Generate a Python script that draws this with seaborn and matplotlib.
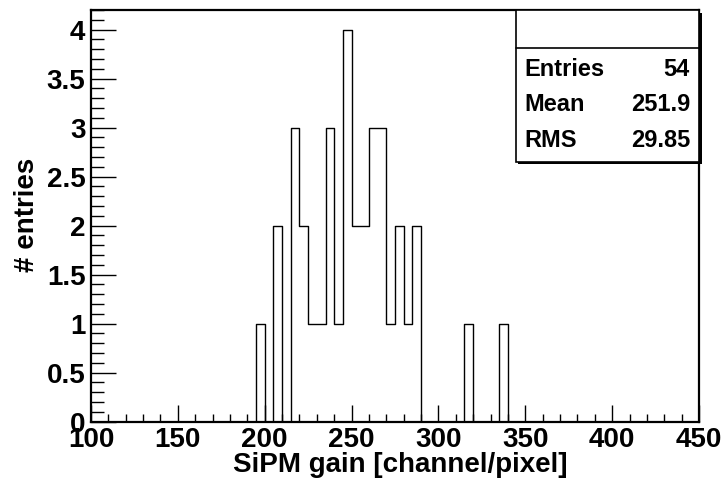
import numpy as np
import pandas as pd
import matplotlib
matplotlib.use("Agg")
import matplotlib.pyplot as plt
from matplotlib.patches import Rectangle
from matplotlib.ticker import MultipleLocator
import seaborn as sns

# ---- data ----
bin_low_edges = [195, 205, 215, 220, 225, 230, 235, 240, 245, 250, 255,
                 260, 265, 270, 275, 280, 285, 315, 335]
bin_counts = [1, 2, 3, 2, 1, 1, 3, 1, 4, 2, 2,
              3, 3, 1, 2, 1, 2, 1, 1]
x_min, x_max, bin_width = 100, 450, 5
stats_labels = ["Entries", "Mean", "RMS"]
stats_values = ["54", "251.9", "29.85"]
x_title = "SiPM gain [channel/pixel]"
y_title = "# entries"

df = pd.DataFrame({"gain": np.array(bin_low_edges) + bin_width / 2,
                   "n": bin_counts})

sns.set_theme(style="white")
plt.rcParams["font.family"] = ["Liberation Sans", "DejaVu Sans"]
plt.rcParams["font.weight"] = "bold"
plt.rcParams["text.color"] = "black"
plt.rcParams["axes.labelcolor"] = "black"
plt.rcParams["xtick.color"] = "black"
plt.rcParams["ytick.color"] = "black"

fig = plt.figure(figsize=(7.24, 4.87), dpi=100)
ax = fig.add_axes([91 / 724, 1 - 421.7 / 487, (699 - 91) / 724, (421.7 - 10) / 487])

sns.histplot(data=df, x="gain", weights="n",
             binwidth=bin_width, binrange=(x_min, x_max),
             element="step", fill=False, color="black", linewidth=1.0, ax=ax)

ax.set_xlim(x_min, x_max)
ax.set_ylim(0, 4.2)
ax.xaxis.set_major_locator(MultipleLocator(50))
ax.xaxis.set_minor_locator(MultipleLocator(10))
ax.yaxis.set_major_locator(MultipleLocator(0.5))
ax.yaxis.set_minor_locator(MultipleLocator(0.1))
ax.yaxis.set_major_formatter(matplotlib.ticker.FuncFormatter(lambda v, p: f"{v:g}"))

for s in ax.spines.values():
    s.set_color("black")
    s.set_linewidth(1.6)

ax.tick_params(axis="x", which="major", direction="in", length=12, width=1.0,
               labelsize=20, pad=4, colors="black", bottom=True, top=False)
ax.tick_params(axis="x", which="minor", direction="in", length=6, width=1.0,
               bottom=True, top=False, colors="black")
ax.tick_params(axis="y", which="major", direction="in", length=18, width=1.0,
               labelsize=20, pad=4, colors="black", left=True, right=False)
ax.tick_params(axis="y", which="minor", direction="in", length=9, width=1.0,
               left=True, right=False, colors="black")
for lbl in ax.get_xticklabels() + ax.get_yticklabels():
    lbl.set_fontweight("bold")
    lbl.set_color("black")

ax.set_xlabel(x_title, fontsize=20, fontweight="bold", color="black")
ax.set_ylabel(y_title, fontsize=20, fontweight="bold", color="black")
ax.xaxis.set_label_coords(0.508, -0.105)
ax.xaxis.label.set_va("center")
ax.yaxis.set_label_coords(-0.105, 0.502)
ax.yaxis.label.set_va("center")

# ---- stats box ----
bx0, bx1 = (515.7 - 91) / 608, 1.0
by0, by1 = (421.7 - 161.7) / 411.7, 1.0
sh = 2.5 / 608
ax.add_patch(Rectangle((bx0 + sh, by0 - 2.5 / 411.7), bx1 - bx0, by1 - by0,
                       transform=ax.transAxes, facecolor="black",
                       edgecolor="black", lw=0, clip_on=False, zorder=5))
ax.add_patch(Rectangle((bx0, by0), bx1 - bx0, by1 - by0, transform=ax.transAxes,
                       facecolor="white", edgecolor="black", lw=1.2,
                       clip_on=False, zorder=6))
sep = (421.7 - 48) / 411.7
ax.plot([bx0, bx1], [sep, sep], transform=ax.transAxes, color="black",
        lw=1.2, clip_on=False, zorder=7)
rows_y = [69.5, 104.5, 140.5]
for lab, val, ypx in zip(stats_labels, stats_values, rows_y):
    yy = (421.7 - ypx) / 411.7
    ax.text((524 - 91) / 608, yy, lab, transform=ax.transAxes, ha="left",
            va="center", fontsize=17, fontweight="bold", color="black", zorder=8)
    ax.text((690 - 91) / 608, yy, val, transform=ax.transAxes, ha="right",
            va="center", fontsize=17, fontweight="bold", color="black", zorder=8)

fig.savefig("out.png", dpi=100)
